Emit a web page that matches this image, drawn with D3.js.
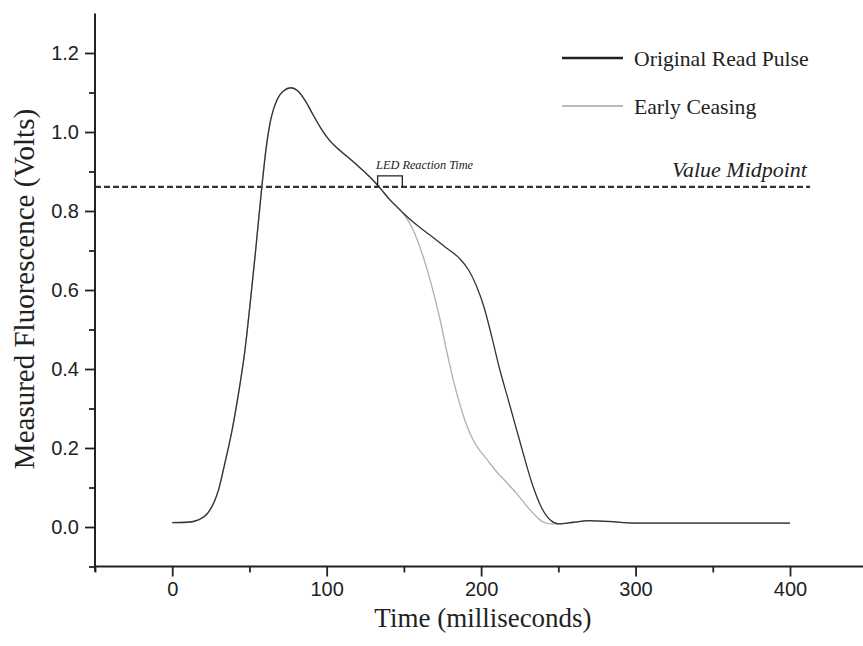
<!DOCTYPE html>
<html lang="en">
    <head>
        <meta charset="utf-8">
        <title>read pulse</title>
        <script src="https://d3js.org/d3.v7.min.js"></script>
        <style type="text/css">
            body { margin: 0; background: #fff; }
            .tick text { font-family: "Liberation Sans", Arial, sans-serif; font-size: 20px; fill: #222; }
            .serif { font-family: "Liberation Serif", "Times New Roman", serif; fill: #222; }
        </style>
    </head>
    <body>
        <script type="text/javascript">
            // shared rising part of both pulses (ms, volts)
            var riseTime  = [0, 10, 17, 23, 27, 30, 34, 39, 43, 47, 50.5, 54, 58, 61, 64, 68, 72, 77, 81, 86, 91, 97, 102, 109, 115, 120, 130, 135, 141];
            var riseValue = [0.011, 0.012, 0.018, 0.035, 0.062, 0.094, 0.16, 0.25, 0.34, 0.445, 0.567, 0.70, 0.86, 0.965, 1.035, 1.083, 1.104, 1.112, 1.105, 1.08, 1.045, 1.005, 0.978, 0.952, 0.932, 0.915, 0.878, 0.856, 0.828];

            // tail of the original read pulse
            var originalTime  = [149.5, 156, 162.5, 170, 178, 186, 192, 197, 202, 207, 212, 217, 222, 227, 233, 239, 245, 250, 260, 270, 282, 300, 320, 350, 380, 400];
            var originalValue = [0.795, 0.772, 0.752, 0.73, 0.705, 0.68, 0.65, 0.61, 0.555, 0.48, 0.40, 0.33, 0.26, 0.19, 0.11, 0.05, 0.017, 0.008, 0.012, 0.016, 0.014, 0.010, 0.010, 0.010, 0.010, 0.010];

            // tail of the early ceasing pulse
            var ceasingTime  = [149.5, 156, 162.5, 167, 173.5, 178, 182, 188, 193, 197.5, 204, 210, 217, 224, 230, 235, 240, 245, 250, 260, 270, 282, 300, 320, 350, 380, 400];
            var ceasingValue = [0.795, 0.752, 0.684, 0.625, 0.524, 0.44, 0.372, 0.288, 0.235, 0.203, 0.17, 0.14, 0.111, 0.08, 0.051, 0.03, 0.013, 0.008, 0.008, 0.012, 0.016, 0.014, 0.010, 0.010, 0.010, 0.010, 0.010];

            var xTicks = [0, 100, 200, 300, 400];
            var xMinorTicks = [-50, 50, 150, 250, 350];
            var yTicks = [0.0, 0.2, 0.4, 0.6, 0.8, 1.0, 1.2];
            var yMinorTicks = [-0.1, 0.1, 0.3, 0.5, 0.7, 0.9, 1.1];

            var seriesNames = ["Original Read Pulse", "Early Ceasing"];
            var seriesColors = ["#333333", "#b4b4b4"];

            // midpoint line and annotations
            var midValue = 0.861, midEnd = 413;
            var ledStart = 133, ledEnd = 149, ledTop = 0.889;

            var svgWidth = 863, svgHeight = 646;

            // scales (x axis runs off the right edge like the original)
            var xScale = d3.scaleLinear().domain([-50, 400]).range([95, 790]);
            var yScale = d3.scaleLinear().domain([-0.1, 1.3]).range([566.5, 13.5]);

            var svg = d3.select("body").append("svg")
                .attr("width", svgWidth)
                .attr("height", svgHeight);

            // build the two series
            var original = riseTime.map(function(t, i) { return {t: t, v: riseValue[i]}; })
                .concat(originalTime.map(function(t, i) { return {t: t, v: originalValue[i]}; }));
            var ceasing = riseTime.map(function(t, i) { return {t: t, v: riseValue[i]}; })
                .concat(ceasingTime.map(function(t, i) { return {t: t, v: ceasingValue[i]}; }));

            var line = d3.line()
                .x(function(d) { return xScale(d.t); })
                .y(function(d) { return yScale(d.v); })
                .curve(d3.curveMonotoneX);

            // dashed midpoint line
            svg.append("line")
                .attr("x1", xScale(-50)).attr("x2", xScale(midEnd))
                .attr("y1", yScale(midValue)).attr("y2", yScale(midValue))
                .attr("stroke", "#333").attr("stroke-width", 2.3)
                .attr("stroke-dasharray", "6,3");

            // curves: draw original on top of the early ceasing one
            svg.append("path").datum(ceasing)
                .attr("d", line).attr("fill", "none")
                .attr("stroke", seriesColors[1]).attr("stroke-width", 1.4);
            svg.append("path").datum(original)
                .attr("d", line).attr("fill", "none")
                .attr("stroke", seriesColors[0]).attr("stroke-width", 1.3);

            // x axis
            var xAxis = svg.append("g")
                .attr("transform", "translate(0," + yScale(-0.1) + ")")
                .call(d3.axisBottom(xScale).tickValues(xTicks).tickSize(10).tickPadding(5).tickFormat(d3.format("d")));
            svg.append("g")
                .attr("transform", "translate(0," + yScale(-0.1) + ")")
                .call(d3.axisBottom(xScale).tickValues(xMinorTicks).tickSize(6).tickFormat(""))
                .select(".domain").remove();
            xAxis.select(".domain").attr("d", "M95,0H" + (xScale(450)));

            // y axis
            var yAxis = svg.append("g")
                .attr("transform", "translate(" + xScale(-50) + ",0)")
                .call(d3.axisLeft(yScale).tickValues(yTicks).tickSize(10).tickPadding(6).tickFormat(d3.format(".1f")));
            svg.append("g")
                .attr("transform", "translate(" + xScale(-50) + ",0)")
                .call(d3.axisLeft(yScale).tickValues(yMinorTicks).tickSize(6).tickFormat(""))
                .select(".domain").remove();
            yAxis.select(".domain").attr("d", "M0," + yScale(1.3) + "V" + (yScale(-0.1) + 5));

            svg.selectAll(".domain").attr("stroke", "#222").attr("stroke-width", 2);
            svg.selectAll(".tick line").attr("stroke", "#222").attr("stroke-width", 1.8);

            // axis titles
            svg.append("text").attr("class", "serif")
                .attr("x", 483).attr("y", 627)
                .attr("text-anchor", "middle")
                .style("font-size", "27px")
                .text("Time (milliseconds)");
            svg.append("text").attr("class", "serif")
                .attr("transform", "translate(34,289) rotate(-90)")
                .attr("text-anchor", "middle")
                .style("font-size", "29px")
                .text("Measured Fluorescence (Volts)");

            // legend
            seriesNames.forEach(function(name, i) {
                var ly = 58 + i * 48;
                svg.append("line")
                    .attr("x1", 562).attr("x2", 623).attr("y1", ly).attr("y2", ly)
                    .attr("stroke", i == 0 ? "#222" : "#bbb").attr("stroke-width", i == 0 ? 2.3 : 1.8);
                svg.append("text").attr("class", "serif")
                    .attr("x", 634).attr("y", ly + 8)
                    .style("font-size", "21.7px")
                    .text(name);
            });

            // value midpoint label
            svg.append("text").attr("class", "serif")
                .attr("x", xScale(411)).attr("y", yScale(0.886))
                .attr("text-anchor", "end")
                .style("font-size", "22px").style("font-style", "italic")
                .text("Value Midpoint");

            // LED reaction time bracket
            svg.append("path")
                .attr("d", "M" + xScale(ledStart) + "," + yScale(midValue) +
                    "V" + yScale(ledTop) + "H" + xScale(ledEnd) + "V" + yScale(midValue))
                .attr("fill", "none").attr("stroke", "#222").attr("stroke-width", 1.3);
            svg.append("text").attr("class", "serif")
                .attr("x", xScale(132)).attr("y", yScale(0.906))
                .style("font-size", "12.3px").style("font-style", "italic")
                .text("LED Reaction Time");
        </script>
    </body>
</html>
